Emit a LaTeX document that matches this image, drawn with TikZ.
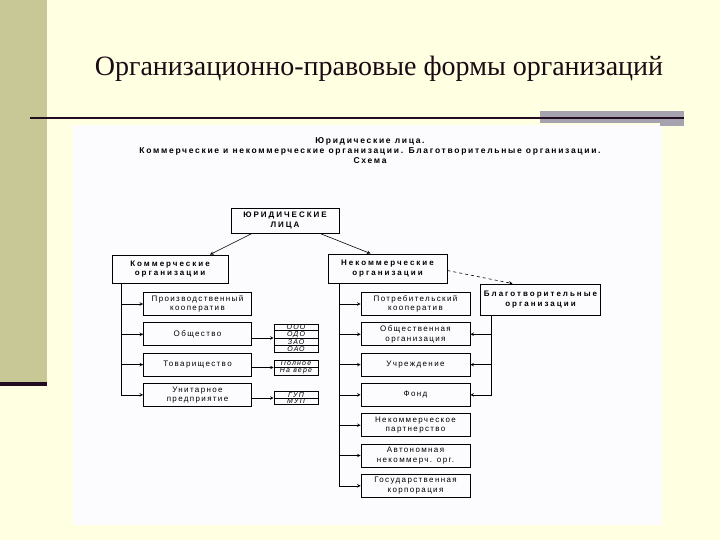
\documentclass[tikz,border=0pt]{standalone}
\usepackage{fontspec}
\setmainfont{Liberation Serif}
\newfontfamily\schemefont[LetterSpace=17, BoldFeatures={LetterSpace=25}]{Liberation Sans}
\newfontfamily\headfont[LetterSpace=20]{Liberation Sans}
\usetikzlibrary{shapes.multipart}
\definecolor{slidebg}{RGB}{255,255,226}
\definecolor{slidebar}{RGB}{200,200,150}
\definecolor{slideline}{RGB}{34,12,34}
\definecolor{slidegray}{RGB}{166,162,176}
\definecolor{scanbg}{RGB}{252,252,254}
\definecolor{titlecol}{RGB}{26,10,20}

\begin{document}
\begin{tikzpicture}[
  x=1pt, y=-1pt,
  node distance=30.3pt,
  parent/.style={rectangle, draw, line width=0.9pt, font=\schemefont\fontsize{8}{9.5}\selectfont\bfseries, align=center, inner sep=1pt},
  child/.style={rectangle, draw, line width=0.7pt, minimum width=108pt, minimum height=23pt, font=\schemefont\fontsize{8}{9.5}\selectfont, align=center, inner sep=1pt},
  tbl/.style={rectangle split, draw, line width=0.6pt, minimum width=44pt, inner ysep=0.6pt, font=\schemefont\fontsize{7}{7.5}\selectfont\itshape},
  arrow/.style={->, >=stealth, line width=0.6pt}
]
  \useasboundingbox (0,0) rectangle (720,540);

  % Фон слайда
  \fill[slidebg] (0,0) rectangle (720,540);
  \fill[slidebar] (0,0) rectangle (47,382);
  \fill[slideline] (0,382) rectangle (47,386);
  \fill[scanbg] (73,125) rectangle (662,525);
  \fill[slidegray] (540,111) rectangle (684,123);
  \fill[slidegray] (660,123) rectangle (684,126);
  \fill[slideline] (30,117) rectangle (684,119.5);

  % Заголовок
  \node[font=\fontsize{28}{32}\selectfont, text=titlecol] (title) at (379,69) {Организационно-правовые формы организаций};

  \node[font=\headfont\fontsize{8.5}{10}\selectfont\bfseries, align=center] (head) at (370,151)
    {Юридические лица.\\Коммерческие и некоммерческие организации. Благотворительные организации.\\Схема};

  % Верхний уровень
  \node[parent, minimum width=108pt, minimum height=25pt] (jurlica) at (285,220.5) {ЮРИДИЧЕСКИЕ\\ЛИЦА};
  \node[parent, minimum width=116pt, minimum height=28pt] (kommerch) at (170,269) {Коммерческие\\организации};
  \node[parent, minimum width=119pt, minimum height=29pt] (nekommerch) at (387.5,268.5) {Некоммерческие\\организации};
  \node[parent, minimum width=120pt, minimum height=31pt] (blagotv) at (540.5,299.5) {Благотворительные\\организации};

  % Коммерческие (слева)
  \node[child] (proizvkoop) at (197.5,304) {Производственный\\кооператив};
  \node[child, below of=proizvkoop] (obshchestvo) {Общество};
  \node[child, below of=obshchestvo] (tovarishch) {Товарищество};
  \node[child, below of=tovarishch] (unitarnoe) {Унитарное\\предприятие};

  % Формы (таблички)
  \node[tbl, rectangle split parts=4] (formyobsh) at (296,338)
    {ООО\nodepart{two}ОДО\nodepart{three}ЗАО\nodepart{four}ОАО};
  \node[tbl, rectangle split parts=2] (formytov) at (296,367.5)
    {Полное\nodepart{two}На вере};
  \node[tbl, rectangle split parts=2] (formyunit) at (296,398)
    {ГУП\nodepart{two}МУП};

  % Некоммерческие (справа)
  \node[child, minimum width=109pt] (potrebkoop) at (415.5,304) {Потребительский\\кооператив};
  \node[child, minimum width=109pt, below of=potrebkoop] (obshchorg) {Общественная\\организация};
  \node[child, minimum width=109pt, below of=obshchorg] (uchrezhd) {Учреждение};
  \node[child, minimum width=109pt, below of=uchrezhd] (fond) {Фонд};
  \node[child, minimum width=109pt, below of=fond] (nekompart) {Некоммерческое\\партнерство};
  \node[child, minimum width=109pt, below of=nekompart] (avtonom) {Автономная\\некоммерч. орг.};
  \node[child, minimum width=109pt, below of=avtonom] (goskorp) {Государственная\\корпорация};

  % Стрелки
  \draw[arrow] ([xshift=-33pt]jurlica.south) -- ([xshift=40pt]kommerch.north);
  \draw[arrow] ([xshift=35pt]jurlica.south) -- ([xshift=-17pt]nekommerch.north);
  \draw[arrow, dashed] ([yshift=-2pt]nekommerch.east) -- ([xshift=-28pt]blagotv.north);

  \coordinate (komtrunk) at ([xshift=10pt]kommerch.south west);
  \foreach \n in {proizvkoop, obshchestvo, tovarishch, unitarnoe}
    \draw[arrow] (komtrunk) |- (\n.west);

  \draw[arrow] (formyobsh.west -| obshchestvo.east) -- (formyobsh.west);
  \draw[arrow] (formytov.west -| tovarishch.east) -- (formytov.west);
  \draw[arrow] (formyunit.west -| unitarnoe.east) -- (formyunit.west);

  \coordinate (nekomtrunk) at ([xshift=12pt]nekommerch.south west);
  \foreach \n in {potrebkoop, obshchorg, uchrezhd, fond, nekompart, avtonom, goskorp}
    \draw[arrow] (nekomtrunk) |- (\n.west);

  \coordinate (blagtrunk) at ([xshift=11pt]blagotv.south west);
  \foreach \n in {obshchorg, uchrezhd, fond}
    \draw[arrow] (blagtrunk) |- (\n.east);

\end{tikzpicture}
\end{document}
